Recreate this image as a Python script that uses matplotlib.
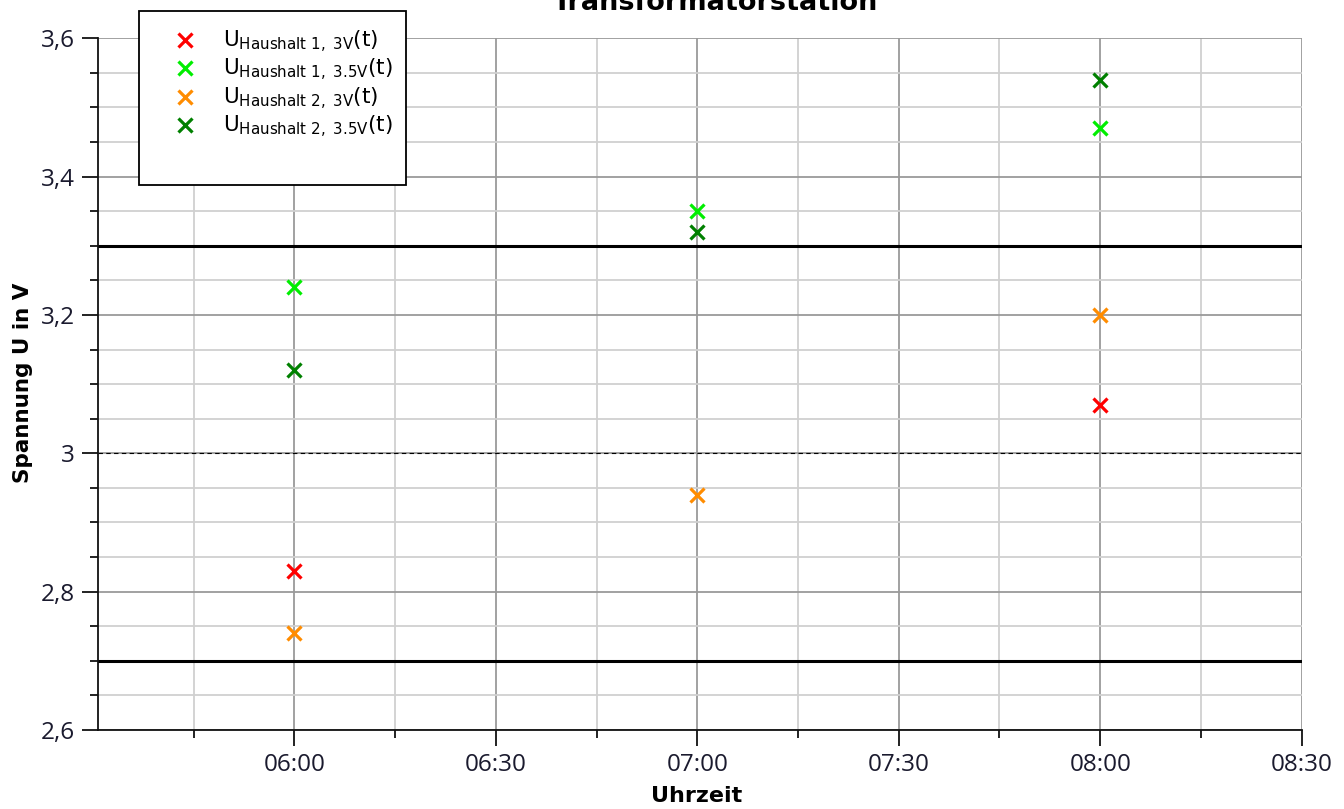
import matplotlib
matplotlib.use("Agg")
import matplotlib.pyplot as plt
from matplotlib.ticker import MultipleLocator, FuncFormatter
from matplotlib.patches import Rectangle

# Data (time in hours)
times = [6.0, 7.0, 8.0]
u_h1_3v = [2.83, None, 3.07]
u_h1_35v = [3.24, 3.35, 3.47]
u_h2_3v = [2.74, 2.94, 3.20]
u_h2_35v = [3.12, 3.32, 3.54]
labels = [r"U$_{\mathrm{Haushalt\ 1,\ 3V}}$(t)",
          r"U$_{\mathrm{Haushalt\ 1,\ 3.5V}}$(t)",
          r"U$_{\mathrm{Haushalt\ 2,\ 3V}}$(t)",
          r"U$_{\mathrm{Haushalt\ 2,\ 3.5V}}$(t)"]
colors = ["#ff0000", "#00ee00", "#ff8c00", "#008000"]
upper_limit = 3.3
lower_limit = 2.7
nominal = 3.0

plt.rcParams['mathtext.fontset'] = 'dejavusans'

fig = plt.figure(figsize=(13.44, 8.09), dpi=100)
ax = fig.add_axes([97.7/1344, 1-730/809, (1301.7-97.7)/1344, (730-38.3)/809])

ax.set_xlim(6.0 - (294.3-97.7)/402.96, 8.5)
ax.set_ylim(2.6, 3.6)

ax.xaxis.set_major_locator(MultipleLocator(0.5))
ax.xaxis.set_minor_locator(MultipleLocator(0.25))
ax.yaxis.set_major_locator(MultipleLocator(0.2))
ax.yaxis.set_minor_locator(MultipleLocator(0.05))

def fmt_time(v, pos):
    h = int(v + 1e-6)
    m = int(round((v - h) * 60))
    return f"{h:02d}:{m:02d}"

def fmt_y(v, pos):
    s = f"{v:.1f}"
    if s.endswith(".0"):
        s = s[:-2]
    return s.replace(".", ",")

ax.xaxis.set_major_formatter(FuncFormatter(fmt_time))
ax.yaxis.set_major_formatter(FuncFormatter(fmt_y))

ax.grid(which='minor', color='#d0d0d0', linewidth=1.3, zorder=0)
ax.grid(which='major', color='#9a9a9a', linewidth=1.3, zorder=0)
ax.set_axisbelow(True)

for s in ['top', 'right']:
    ax.spines[s].set_visible(False)
for s in ['left', 'bottom']:
    ax.spines[s].set_linewidth(1.3)
    ax.spines[s].set_color('#111111')

ax.tick_params(which='major', length=11.5, width=1.3, color='#111111',
               labelsize=17.5, labelcolor='#1a1a2e', pad=5)
ax.tick_params(which='minor', length=6, width=1.3, color='#111111')
for lab in ax.get_xticklabels() + ax.get_yticklabels():
    lab.set_family('Open Sans')
ax.tick_params(axis='x', which='major', pad=5)

ax.axhline(upper_limit, color='black', linewidth=2.2, zorder=2)
ax.axhline(lower_limit, color='black', linewidth=2.2, zorder=2)
ax.axhline(nominal, color='black', linewidth=0.8, linestyle=(0, (4, 3)), zorder=2)

series = [u_h1_3v, u_h1_35v, u_h2_3v, u_h2_35v]
handles = []
for vals, c, lab in zip(series, colors, labels):
    xs = [t for t, v in zip(times, vals) if v is not None]
    ys = [v for v in vals if v is not None]
    h, = ax.plot(xs, ys, linestyle='none', marker='x', markersize=10,
                 markeredgewidth=2.3, color=c, label=lab, zorder=3, clip_on=False)
    handles.append(h)

ax.set_xlabel("Uhrzeit", fontsize=16, fontweight='bold')
ax.set_ylabel("Spannung U in V", fontsize=15.5, fontweight='bold')
ax.xaxis.set_label_coords((697 - 97.7)/(1301.7-97.7), -(786-730)/(730-38.3))
ax.yaxis.set_label_coords(-(97.7-33)/(1301.7-97.7), (730-383)/(730-38.3))

fig.text(716/1344, 1-10/809, "Transformatorstation", ha='center', va='baseline',
         fontsize=19.5, fontweight='bold')

# legend box
rect = Rectangle((139/1344, 1-185/809), (406-139)/1344, (185-11)/809,
                 transform=fig.transFigure, facecolor='white', edgecolor='black',
                 linewidth=1.3, zorder=5)
fig.patches.append(rect)
leg = fig.legend(handles=handles, loc='upper left',
                 bbox_to_anchor=(163/1344, 1-18/809), frameon=False,
                 fontsize=15.5, handlelength=1.0, handletextpad=1.3,
                 labelspacing=0.1, borderpad=0)
leg.set_zorder(6)

fig.savefig("out.png", dpi=100)
